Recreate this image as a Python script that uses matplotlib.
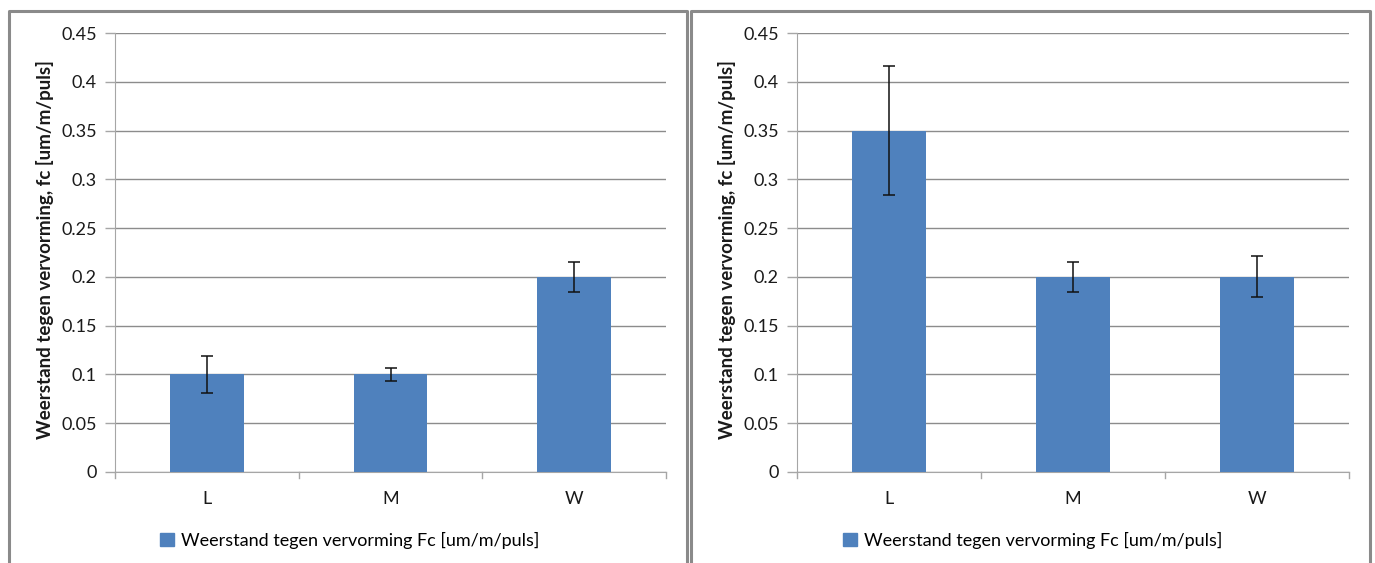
import matplotlib
matplotlib.use("Agg")
import matplotlib.pyplot as plt
from matplotlib.lines import Line2D
from matplotlib.patches import Patch
import numpy as np

categories = ["L", "M", "W"]
left_values = [0.10, 0.10, 0.20]
left_errors = [0.019, 0.007, 0.015]
right_values = [0.35, 0.20, 0.20]
right_errors = [0.066, 0.015, 0.021]
yticks = [0, 0.05, 0.1, 0.15, 0.2, 0.25, 0.3, 0.35, 0.4, 0.45]
ytick_labels = ["0", "0.05", "0.1", "0.15", "0.2", "0.25", "0.3", "0.35", "0.4", "0.45"]
ylabel = "Weerstand tegen vervorming, fc [um/m/puls]"
legend_label = "Weerstand tegen vervorming Fc [um/m/puls]"

plt.rcParams['font.family'] = ['Lato', 'DejaVu Sans']

W, H = 1375, 563
fig = plt.figure(figsize=(W / 100, H / 100), dpi=100)

bar_color = "#4F81BD"
grid_color = "#8C8C8C"
axis_color = "#A6A6A6"
text_color = "#1a1a1a"
fs = 13


def px(x0, y0, x1, y1):
    return [x0 / W, 1 - y1 / H, (x1 - x0) / W, (y1 - y0) / H]


def draw_panel(rect, values, errors, ylabel_x, legend_x):
    ax = fig.add_axes(rect)
    x = np.arange(len(categories))
    ax.bar(x, values, width=0.4, color=bar_color, zorder=3,
           yerr=errors, error_kw=dict(ecolor="#111111", elinewidth=1.1,
                                      capsize=4, capthick=1.1, zorder=4))
    ax.set_xlim(-0.5, len(categories) - 0.5)
    ax.set_ylim(0, 0.45)
    ax.set_yticks(yticks)
    ax.set_yticklabels(ytick_labels, fontsize=fs, color=text_color)
    ax.set_xticks(x)
    ax.set_xticklabels(categories, fontsize=fs, color=text_color)
    ax.tick_params(axis="x", length=0, pad=14)
    ax.tick_params(axis="y", length=7, color=axis_color, width=1, pad=6)
    # category boundary ticks
    for b in np.arange(-0.5, len(categories) + 0.5, 1.0):
        ax.plot([b, b], [0, -0.006], color=axis_color, lw=1,
                clip_on=False, zorder=2)
    ax.yaxis.grid(True, color=grid_color, lw=1, zorder=0)
    for s in ["top", "right"]:
        ax.spines[s].set_visible(False)
    ax.spines["left"].set_color(axis_color)
    ax.spines["bottom"].set_color(axis_color)
    fig.text(ylabel_x / W, 1 - 250 / H, ylabel, rotation=90, ha="center",
             va="center", fontsize=fs + 0.5, fontweight="bold", color=text_color)
    fig.legend(handles=[Patch(color=bar_color)], labels=[legend_label],
               loc="center left", bbox_to_anchor=(legend_x / W, 1 - 540 / H),
               frameon=False, fontsize=fs, handlelength=0.75, handleheight=0.75,
               handletextpad=0.4, borderaxespad=0, borderpad=0)
    return ax


draw_panel(px(115, 33, 666, 472), left_values, left_errors, 45, 160)
draw_panel(px(797, 33, 1349, 472), right_values, right_errors, 727, 843)

border_color = "#8A8A8A"
for (x0, x1) in [(8.5, 686.5), (691.5, 1369.5)]:
    xs = [x0 / W, x0 / W, x1 / W, x1 / W]
    ys = [0, 1 - 10.5 / H, 1 - 10.5 / H, 0]
    fig.add_artist(Line2D(xs, ys, color=border_color, lw=2.2,
                          transform=fig.transFigure))

fig.savefig("out.png", dpi=100)
